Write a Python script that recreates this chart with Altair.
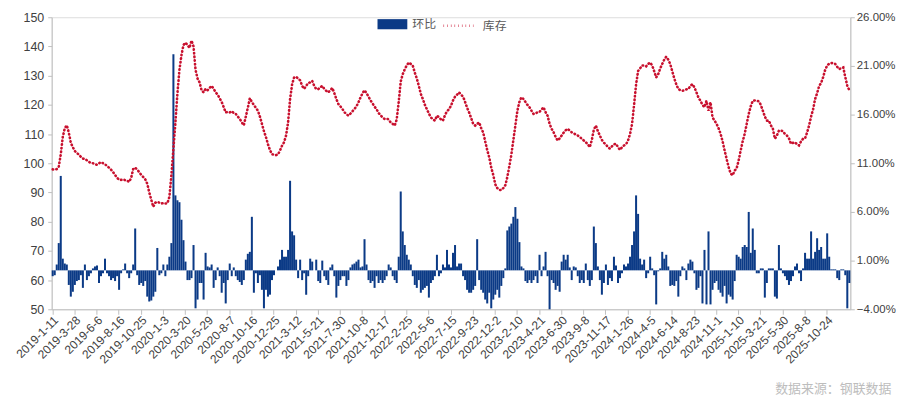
import json
import altair as alt
import pandas as pd

# 库存 (left axis) weekly values
kucun = [
    97.9, 97.8, 98.0, 98.8, 103.0, 109.0, 112.0, 113.0, 110.5, 107.0,
    105.5, 104.2, 103.5, 103.0, 102.2, 101.6, 101.5, 101.0, 100.5, 100.1,
    100.0, 99.7, 99.5, 100.0, 100.4, 100.0, 99.7, 99.0, 98.5, 97.8,
    97.0, 96.0, 95.0, 94.4, 94.3, 94.5, 94.2, 94.0, 93.6, 95.0,
    98.0, 98.5, 97.8, 97.0, 96.0, 95.3, 94.5, 93.0, 90.0, 87.5,
    85.1, 86.5, 86.8, 86.5, 86.2, 86.4, 86.2, 86.3, 88.5, 96.0,
    105.0, 114.0, 124.0, 132.0, 137.0, 140.5, 141.3, 140.5, 139.5, 142.0,
    140.0, 132.0, 129.0, 127.7, 125.0, 124.3, 125.5, 125.0, 125.8, 126.5,
    125.5, 124.3, 123.5, 122.2, 121.0, 119.2, 117.4, 117.6, 117.4, 117.8,
    117.2, 116.9, 116.0, 115.2, 114.0, 113.0, 116.0, 119.0, 122.3, 121.0,
    120.0, 119.0, 118.0, 116.0, 113.5, 111.0, 109.0, 106.5, 104.5, 103.1,
    102.9, 102.8, 103.0, 104.4, 106.0, 107.2, 109.5, 114.0, 122.0, 127.0,
    129.4, 129.6, 129.0, 128.4, 126.5, 125.5, 126.5, 127.5, 127.7, 128.2,
    126.5, 125.4, 125.4, 126.0, 126.5, 125.5, 124.8, 124.3, 125.0, 125.8,
    124.0, 122.0, 120.3, 119.5, 118.6, 117.5, 116.8, 116.3, 117.0, 117.8,
    118.6, 119.5, 120.9, 122.5, 124.0, 125.0, 124.0, 122.8, 121.5, 120.5,
    119.4, 118.5, 117.2, 116.5, 115.6, 115.2, 115.3, 115.0, 114.0, 113.5,
    112.9, 115.0, 121.0, 128.0, 130.5, 132.2, 133.5, 134.5, 134.0, 133.4,
    131.0, 129.0, 126.5, 123.7, 122.0, 120.0, 118.5, 117.0, 115.7, 115.0,
    114.6, 116.3, 115.8, 115.0, 114.6, 116.5, 117.8, 118.5, 119.7, 121.5,
    122.8, 123.5, 124.3, 123.5, 122.8, 121.0, 119.0, 117.4, 115.5, 113.5,
    112.9, 113.5, 114.0, 112.0, 110.5, 107.5, 104.5, 102.0, 98.5, 96.0,
    92.8, 91.5, 90.9, 90.8, 91.5, 92.5, 95.3, 99.0, 103.0, 108.0,
    113.0, 118.0, 121.0, 122.6, 122.0, 121.0, 120.0, 119.2, 118.0, 116.9,
    117.0, 117.5, 117.6, 118.4, 119.2, 117.5, 116.3, 113.5, 111.8, 110.6,
    109.0, 107.8, 108.5, 109.5, 110.5, 111.3, 111.8, 111.2, 110.6, 110.3,
    109.8, 109.5, 109.0, 108.4, 107.8, 107.2, 106.5, 105.5, 108.0, 111.5,
    112.9, 111.0, 109.5, 108.0, 107.0, 106.5, 105.5, 105.0, 105.8, 106.5,
    106.7, 105.5, 104.6, 105.5, 106.1, 106.5, 107.8, 110.0, 113.5, 120.0,
    127.0, 131.6, 132.5, 133.5, 133.5, 133.2, 134.0, 134.5, 133.5, 131.5,
    129.4, 130.5, 132.5, 134.0, 135.5, 136.5, 135.5, 133.9, 131.5, 129.0,
    127.0, 125.4, 125.0, 124.8, 125.0, 125.3, 125.4, 126.5, 127.1, 126.0,
    124.3, 122.5, 121.4, 120.0, 119.2, 121.4, 118.0, 120.9, 115.7, 114.6,
    113.5, 112.0, 110.1, 107.5, 104.4, 101.5, 98.7, 96.5, 95.9, 97.5,
    98.3, 101.0, 104.4, 107.5, 110.1, 113.5, 116.9, 119.5, 121.4, 121.5,
    121.4, 121.2, 120.0, 118.0, 116.0, 114.6, 114.6, 113.0, 111.8, 108.4,
    109.5, 111.2, 111.2, 111.0, 110.0, 109.5, 108.5, 106.7, 107.0, 107.2,
    106.5, 106.1, 107.5, 108.4, 108.5, 110.5, 112.9, 116.0, 118.5, 122.0,
    124.0, 126.5, 127.5, 129.5, 132.0, 133.5, 134.1, 134.3, 134.3, 134.0,
    133.0, 132.2, 132.6, 132.8, 129.5, 126.5, 125.0,
]

# 环比 (right axis, %) weekly values
huanbi = [
    -0.6, -0.5, 0.6, 2.8, 9.7, 1.2, 0.7, 0.6, -1.5, -2.7,
    -2.2, -1.5, -1.1, -1.0, -0.5, -1.8, 0.6, -1.0, -0.6, -0.3,
    0.2, 0.4, 0.5, -1.3, -0.6, -0.3, 1.2, -0.3, -0.6, -1.0,
    -0.8, -1.1, -0.6, -2.0, -0.3, 0.1, 0.7, -0.3, -0.8, -0.3,
    0.6, 4.3, -0.5, -1.5, -1.3, -1.6, -1.1, -2.7, -3.2, -3.1,
    -2.7, -2.2, 2.3, -0.5, -0.3, 0.6, -0.6, 0.6, 1.4, 2.8,
    22.2, 7.7, 7.2, 7.0, 5.2, 3.1, 0.9, -1.0, -1.0, -0.8,
    2.6, -3.9, -3.0, -1.3, -1.3, -3.0, 1.8, 0.4, 0.3, 0.6,
    -1.8, -1.0, 0.3, -0.6, -2.3, -1.3, -3.4, -1.0, 0.7, -0.6,
    0.3, -0.6, -1.0, -1.2, -1.5, -1.0, 1.1, 1.7, 1.9, 5.5,
    -2.3, -0.3, -1.3, -0.5, -2.0, -3.9, -2.0, -2.7, -2.5, -1.0,
    -0.5, 0.0, 0.4, 1.1, 2.1, 1.4, 1.4, 2.1, 9.2, 4.0,
    3.6, 1.1, -0.8, 1.1, -1.0, -0.3, -2.5, -0.6, 1.2, 0.9,
    0.0, 1.1, -1.1, -1.3, 1.0, -0.6, -1.0, -1.5, 0.3, 0.6,
    -0.6, -2.8, -1.6, -1.0, -0.6, -0.6, -1.6, -1.0, 0.3, 0.6,
    0.7, 0.9, 1.1, 0.3, 0.4, 3.2, 0.6, -1.0, -1.3, -1.1,
    -1.8, -0.6, -1.3, -1.0, -1.3, -1.0, -0.6, 0.6, 0.3, -0.6,
    -1.0, -1.3, 1.4, 8.1, 4.0, 2.6, 1.6, 1.1, 0.6, -0.6,
    -1.5, -1.8, -1.0, -2.3, -2.0, -1.8, -1.6, -2.8, -1.3, -1.0,
    -0.6, 1.6, -0.6, -0.3, 0.6, 0.3, 2.1, 0.6, 0.3, 1.8,
    2.6, 0.4, 0.7, 0.7, -0.6, -1.0, -2.0, -2.3, -2.3, -2.0,
    -1.6, 3.2, -1.0, -2.0, -2.3, -3.0, -3.4, -2.3, -3.9, -3.0,
    -2.5, -2.0, -2.8, -1.6, -0.8, 0.2, 4.1, 4.5, 4.8, 5.5,
    6.5, 5.3, 2.9, 0.4, 0.2, -1.1, -1.3, -1.0, -1.3, -1.0,
    -0.6, -1.3, 1.6, -0.6, 0.4, 1.9, -0.6, -4.0, -1.0, -1.3,
    -2.0, -1.6, -2.2, 0.9, 1.6, 1.1, 1.6, 0.3, -1.0, 0.4,
    0.3, -0.6, -1.3, -1.0, -1.3, 0.7, -1.0, -1.6, -1.0, 4.5,
    2.8, 0.4, -1.0, -2.5, -1.3, 0.6, -1.5, -0.8, -1.1, 1.4,
    0.5, -1.3, -0.8, -0.3, 0.6, 0.4, 0.7, 1.4, 2.6, 4.0,
    7.7, 5.8, 1.2, 0.6, 1.1, -0.8, -0.3, 1.4, 0.2, -0.5,
    -3.5, -0.1, 0.2, 1.9, 1.2, 1.6, 0.4, -1.6, -1.5, -1.6,
    -1.1, -2.7, -0.6, 0.4, 0.2, -1.0, 0.7, 1.1, 0.9, -0.3,
    -2.0, -1.8, -0.6, -3.4, 2.1, -3.5, 4.0, -3.5, -2.0, -1.3,
    -1.1, -2.0, -2.3, -2.7, -1.6, -3.4, -2.5, -2.7, -3.0, -1.1,
    1.6, 1.4, 1.2, 2.4, 2.6, 2.4, 6.0, 1.8, 4.3, 2.1,
    -0.3, -0.3, 0.2, 0.2, -2.8, -1.3, 0.2, 0.2, 0.2, -2.7,
    -2.9, 2.6, 0.2, -0.3, -0.6, -1.0, -1.5, -1.1, -0.6, 0.4,
    0.7, -0.3, -1.1, 0.2, 1.8, 1.2, 1.2, 4.0, 1.2, 1.9,
    3.3, 2.1, 2.4, 1.2, 1.2, 3.8, 1.4, 0.1, 0.1, 0.1,
    -0.8, -1.0, 0.1, 0.1, -0.5, -3.9, -1.3,
]

# x-axis tick labels (every 11th week)
tick_labels = [
    "2019-1-11", "2019-3-28", "2019-6-6", "2019-8-16", "2019-10-25",
    "2020-1-3", "2020-3-20", "2020-5-29", "2020-8-7", "2020-10-16",
    "2020-12-25", "2021-3-12", "2021-5-21", "2021-7-30", "2021-10-8",
    "2021-12-17", "2022-2-25", "2022-5-6", "2022-7-15", "2022-9-23",
    "2022-12-2", "2023-2-10", "2023-4-21", "2023-6-30", "2023-9-8",
    "2023-11-17", "2024-1-26", "2024-4-5", "2024-6-14", "2024-8-23",
    "2024-11-1", "2025-1-10", "2025-3-21", "2025-5-30", "2025-8-8",
    "2025-10-24",
]
tick_step = 11

n = min(len(kucun), len(huanbi))
df = pd.DataFrame({
    "i": list(range(n)),
    "kc": kucun[:n],
    "hb": huanbi[:n],
    "s1": ["环比"] * n,
    "s2": ["库存"] * n,
})

FONT = "Liberation Sans, Noto Sans CJK SC"
GRAY = "#BFBFBF"
LBL = "#404040"
BLUE = "#0B3A86"
RED = "#C8102E"

label_expr = json.dumps(tick_labels) + "[round(datum.value/%d)]" % tick_step

x_enc = alt.X(
    "i:O",
    sort=None,
    scale=alt.Scale(paddingInner=0.0, paddingOuter=0.0),
    axis=alt.Axis(
        title=None,
        values=[k * tick_step for k in range(len(tick_labels))],
        labelExpr=label_expr,
        labelAngle=315,
        labelAlign="right",
        labelBaseline="top",
        labelFontSize=12,
        labelColor=LBL,
        labelFont=FONT,
        domainColor=GRAY,
        tickColor=GRAY,
        tickSize=5,
        labelPadding=0,
        grid=False,
    ),
)

bars = alt.Chart(df).mark_bar(fillOpacity=1).encode(
    x=x_enc,
    y=alt.Y(
        "hb:Q",
        scale=alt.Scale(domain=[-4, 26], nice=False, zero=True),
        axis=alt.Axis(
            title=None,
            orient="right",
            values=[-4, 1, 6, 11, 16, 21, 26],
            labelExpr="format(datum.value, '.2f') + '%'",
            labelFontSize=11.5,
            labelColor=LBL,
            labelFont=FONT,
            domainColor=GRAY,
            tickColor=GRAY,
            tickSize=4,
            labelPadding=2,
            grid=False,
        ),
    ),
    fill=alt.Fill(
        "s1:N",
        scale=alt.Scale(domain=["环比"], range=[BLUE]),
        legend=alt.Legend(
            title=None,
            orient="none",
            legendX=328,
            legendY=-8,
            symbolType="M-1,-0.34H1V0.34H-1Z",
            symbolSize=900,
            symbolStrokeWidth=0,
            labelFont="Noto Sans CJK SC",
            labelFontSize=12,
            labelColor="#595959",
            labelOffset=5,
        ),
    ),
)

line = alt.Chart(df).mark_line(
    strokeDash=[0.5, 3.2], strokeCap="round", strokeWidth=2.6
).encode(
    x=x_enc,
    y=alt.Y(
        "kc:Q",
        scale=alt.Scale(domain=[50, 150], nice=False, zero=False),
        axis=alt.Axis(
            title=None,
            orient="left",
            values=list(range(50, 151, 10)),
            labelFontSize=12.5,
            labelColor=LBL,
            labelFont=FONT,
            domainColor=GRAY,
            tickColor=GRAY,
            tickSize=4,
            labelPadding=4,
            grid=False,
        ),
    ),
    stroke=alt.Stroke(
        "s2:N",
        scale=alt.Scale(domain=["库存"], range=[RED]),
        legend=alt.Legend(
            title=None,
            orient="none",
            legendX=393,
            legendY=-8,
            symbolType="stroke",
            symbolSize=900,
            symbolStrokeWidth=2.6,
            symbolDash=[0.5, 3.2],
            labelFont="Noto Sans CJK SC",
            labelFontSize=12,
            labelColor="#595959",
            labelOffset=8,
        ),
    ),
)

chart = (
    alt.layer(bars, line)
    .resolve_scale(y="independent", fill="independent", stroke="independent")
    .properties(
        width=804,
        height=294,
        padding={"left": 44, "top": 8, "right": 48, "bottom": 88},
        autosize=alt.AutoSizeParams(type="none"),
        title=alt.TitleParams(
            "数据来源：钢联数据",
            orient="bottom",
            anchor="end",
            frame="bounds",
            font="Noto Sans CJK SC",
            fontSize=13,
            fontWeight="normal",
            color="#BDBDBD",
            offset=18,
            dx=-4,
        ),
    )
    .configure_view(stroke=None)
    .configure(background="white")
)

chart.save("out.html", embed_options={"renderer": "svg", "actions": False})
